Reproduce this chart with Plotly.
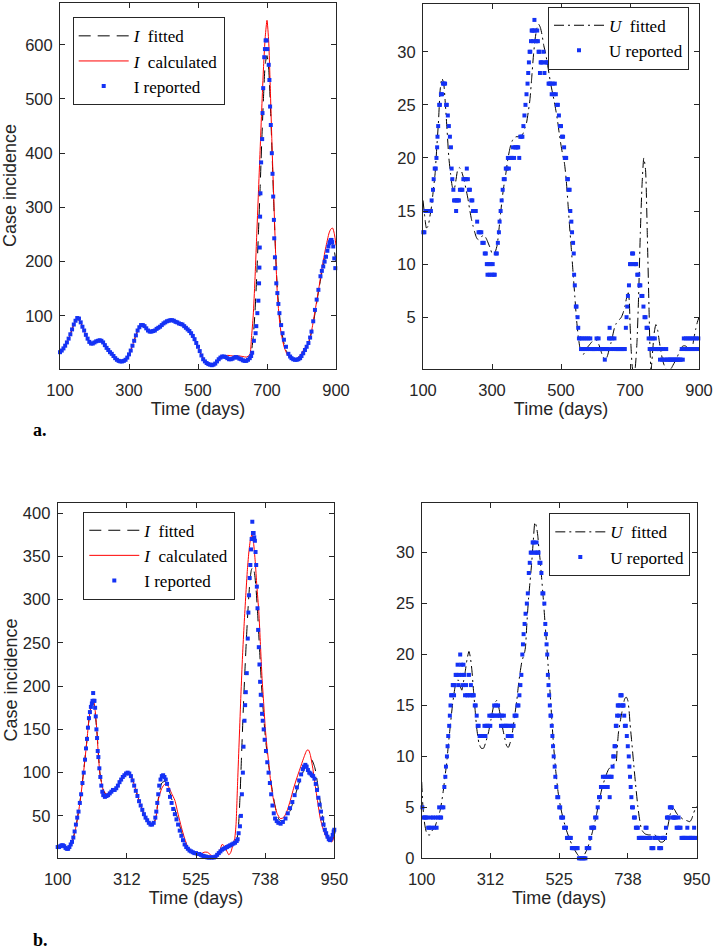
import plotly.graph_objects as go

W, H = 714, 951

# ---------------- Panel a, left: I (case incidence) ----------------
ia_rep_days = list(range(100, 651, 5)) + [
    654, 657, 662, 667, 669, 672, 675, 677, 678, 679,
    680, 681, 683, 686, 687, 689, 692, 694, 696, 699,
    701, 705, 707, 709, 711, 714, 716, 718, 720, 721,
    723, 724, 727, 730, 733, 736, 741, 745, 749, 755,
    762, 767, 771, 776, 781, 786, 791, 796, 800, 805,
    810, 815, 820, 825, 829, 834, 839, 844, 849, 855,
    859, 863, 867, 871, 875, 878, 881, 883, 885, 887,
    889, 892, 895, 898]
ia_rep_vals = [
    33, 36, 40, 45, 51, 58, 66, 75, 84, 91,
    96, 95, 88, 80, 73, 65, 58, 52, 49, 49,
    51, 53, 54, 55, 54, 51, 46, 41, 37, 33,
    30, 26, 22, 19, 17, 16, 16, 17, 19, 23,
    29, 36, 45, 54, 64, 73, 79, 83, 83, 81,
    77, 73, 71, 71, 72, 73, 76, 78, 80, 83,
    86, 88, 90, 91, 92, 92, 91, 89, 88, 86,
    85, 84, 81, 78, 75, 72, 68, 63, 57, 50,
    43, 35, 27, 20, 16, 13, 11, 10, 9, 10,
    12, 16, 20, 23, 25, 25, 24, 22, 20, 20,
    21, 23, 24, 23, 21, 20, 18, 17, 17, 19,
    22,
    26, 32, 54, 68, 81, 105, 128, 160, 189, 226,
    283, 326, 383, 426, 474, 520, 577, 592, 608, 608,
    592, 563, 535, 486, 452, 400, 362, 320, 277, 243,
    208, 188, 160, 142, 122, 105, 83, 68, 56, 43,
    30, 25, 22, 20, 19, 19, 20, 22, 26, 31,
    37, 43, 50, 60, 71, 90, 111, 130, 148, 173,
    183, 191, 200, 209, 220, 228, 234, 237, 240, 240,
    236, 228, 206, 188]

ia_line_days = (list(range(100, 641, 10)) + list(range(650, 741, 5))
                + list(range(750, 881, 10)) + [885, 890, 895, 900])
ia_fit_vals = [
    33, 40, 51, 66, 84, 95, 88, 73, 58, 49,
    51, 54, 54, 46, 37, 30, 22, 17, 16, 19,
    29, 45, 64, 79, 83, 77, 71, 72, 76, 80,
    86, 90, 92, 91, 88, 85, 81, 75, 68, 57,
    43, 27, 16, 11, 9, 12, 20, 25, 24, 20,
    21, 24, 21, 18, 17,
    22, 35, 60, 105, 170, 250, 335, 425, 505, 565,
    580, 555, 485, 395, 300, 215, 150, 110, 82,
    47, 30, 22, 20, 21, 26, 36, 49, 72, 108, 148, 183, 210, 232,
    237, 233, 220, 200]
ia_calc_vals = [
    33, 40, 51, 66, 84, 95, 87, 72, 58, 49,
    51, 53, 53, 45, 36, 29, 21, 15, 14, 18,
    28, 45, 64, 78, 82, 78, 72, 72, 75, 80,
    85, 89, 91, 90, 87, 84, 80, 74, 66, 56,
    43, 28, 17, 12, 10, 14, 22, 26, 27, 27,
    26, 26, 26, 25, 24,
    28, 60, 100, 165, 245, 325, 405, 485, 560, 615,
    645, 605, 510, 405, 310, 215, 140, 100, 72,
    42, 27, 21, 20, 23, 31, 41, 50, 75, 112, 150, 190, 225, 253,
    260, 262, 252, 230]

# ---------------- Panel a, right: U ----------------
ua_rep_days = [
    101, 104, 107, 111, 115, 119, 123, 125, 129, 131,
    134, 137, 139, 141, 142, 144, 147, 149, 152, 155,
    158, 161, 164, 167, 169, 172, 175, 178, 181, 183,
    185, 188, 190, 193, 196, 198, 201, 204, 207, 211,
    214, 217, 221, 224, 227, 230, 233, 236, 240, 243,
    245, 249, 253, 257, 261, 265, 269, 272, 276, 279,
    282, 285, 287, 290, 293, 296, 299, 302, 305, 308,
    311, 314, 317, 320, 322, 325, 328, 331, 334, 337,
    340, 343, 346, 349, 352, 355, 358, 361, 364, 367,
    370, 373, 376, 379, 382, 385, 388, 391, 394, 397,
    400, 403, 405, 407, 409, 411, 413, 415, 417, 419,
    421, 423, 425, 427, 429, 431, 433, 435, 437, 439,
    441, 443, 446, 449, 452, 455, 458, 461, 464, 467,
    470, 473, 476, 479, 482, 485, 488, 491, 494, 497,
    500, 503, 506, 509, 511, 513, 515, 518, 520, 522,
    525, 527, 530, 532, 535, 537, 538, 540, 543, 545,
    548, 550, 552, 555, 558, 561, 564, 567, 570, 573,
    576, 579, 582, 585, 588, 591, 594, 597, 600, 603,
    606, 609, 612, 615, 618, 621, 624, 627, 630, 633,
    636, 639, 641, 643, 646, 649, 652, 655, 658, 661,
    664, 667, 670, 673, 676, 679, 682, 685, 688, 690,
    692, 694, 697, 700, 703, 706, 709, 712, 715, 718,
    721, 724, 727, 730, 733, 736, 739, 742, 745, 748,
    751, 754, 757, 760, 763, 766, 769, 772, 775, 778,
    781, 784, 787, 790, 793, 796, 799, 802, 805, 808,
    811, 814, 817, 820, 823, 826, 829, 832, 835, 838,
    841, 844, 847, 850, 853, 856, 859, 862, 865, 868,
    871, 874, 877, 880, 883, 886, 889, 892, 895, 898]
ua_rep_vals = [
    13, 13, 15, 15, 15, 15, 15, 16, 17, 18,
    19, 19, 20, 21, 22, 23, 25, 25, 26, 26,
    27, 27, 27, 25, 25, 24, 23, 22, 21, 19,
    18, 17, 16, 16, 15, 16, 16, 16, 17, 17,
    17, 18, 18, 18, 19, 18, 17, 17, 16, 16,
    15, 15, 15, 14, 13, 13, 13, 12, 12, 11,
    11, 10, 9, 10, 9, 10, 9, 10, 9, 9,
    11, 11, 12, 13, 14, 15, 16, 17, 18, 18,
    19, 19, 20, 19, 20, 20, 20, 21, 20, 21,
    21, 21, 21, 20, 22, 22, 22, 23, 24, 25,
    26, 27, 28, 29, 30, 30, 31, 32, 32, 31,
    32, 33, 32, 31, 31, 32, 31, 30, 30, 28,
    29, 29, 29, 30, 28, 29, 29, 29, 27, 27,
    27, 26, 27, 26, 27, 26, 25, 25, 24, 23,
    23, 22, 22, 21, 20, 20, 20, 18, 18, 17,
    17, 15, 14, 13, 12, 11, 9, 8, 6, 6,
    5, 4, 3, 3, 2, 3, 2, 3, 2, 3,
    2, 3, 2, 3, 2, 2, 2, 2, 2, 3,
    2, 3, 2, 2, 2, 2, 2, 1, 2, 2,
    2, 3, 4, 3, 2, 3, 2, 3, 2, 2,
    2, 2, 2, 2, 2, 2, 2, 2, 4, 5,
    6, 7, 8, 10, 10, 11, 11, 10, 10, 10,
    9, 9, 8, 8, 7, 7, 6, 5, 5, 4,
    4, 3, 2, 3, 2, 3, 2, 3, 2, 2,
    2, 2, 1, 2, 1, 2, 1, 1, 2, 1,
    1, 1, 1, 1, 1, 1, 1, 1, 1, 1,
    1, 1, 1, 2, 1, 3, 2, 3, 2, 3,
    2, 3, 2, 3, 2, 3, 2, 3, 2, 3]

ua_fit_days = list(range(100, 696, 5)) + [
    698, 700, 703, 706, 710, 715, 720, 725, 730, 735,
    740, 745, 750, 755, 758, 761, 765, 770, 775, 780,
    785, 790, 795, 800, 805, 810, 815, 820, 825, 830,
    835, 840, 845, 850, 855, 860, 865, 870, 875, 880,
    885, 890, 895, 900]
ua_fit_vals = [
    16, 14.5, 13.4, 13.6, 14.5, 15.5, 17, 18.5, 21, 23.5,
    26.5, 27.5, 27, 25, 22.5, 20, 18.5, 17.3, 17, 17.8,
    18.8, 19.1, 18.9, 18.4, 17.8, 17, 16.2, 15.2, 14.3, 13.6,
    13, 12.5, 12.3, 12.4, 12.6, 12.7, 12.6, 12.3, 11.9, 11.5,
    11, 10.9, 11.2, 11.8, 13.2, 14.8, 16.3, 17.5, 18.5, 19.7,
    20.6, 21.3, 21.7, 21.9, 22, 22, 22.1, 22.1, 22.3, 22.8,
    23.3, 24.3, 25.5, 27.5, 29.6, 31.2, 32.2, 32.6, 32.3, 31.6,
    30.6, 29.9, 29, 28, 27, 26.2, 25.4, 24.5, 23.5, 22.3,
    21.2, 20.3, 19.5, 18, 15.8, 13.5, 11.4, 9.2, 7, 4.8,
    3.2, 2.1, 1.6, 1.5, 1.8, 2.1, 2.3, 2.5, 2.7, 2.9,
    2.9, 2.7, 2.4, 1.9, 1.4, 1.1, 1.0, 1.4, 2.0, 2.6,
    3.3, 4.0, 4.4, 4.6, 4.8, 5.0, 5.4, 6.0, 6.8, 7.3,
    6.5, 4.5, 2.2, 0.5, -0.5, 0.2, 2.5, 7, 13, 17.5,
    20, 18.9, 13, 6, 2, 0, 1.5, 3.5, 4.3, 3.8,
    2.7, 1.7, 0.9, 0.4, 0.1, 0, 0.05, 0.2, 0.5, 0.8,
    1.1, 1.5, 1.9, 2.2, 2.3, 2.3, 2.2, 2.2, 2.1, 2.1,
    3, 3.8, 4.5, 5]

# ---------------- Panel b, left: I ----------------
ib_rep_days = [
    100, 104, 108, 112, 116, 120, 124, 128, 132, 136,
    140, 144, 148, 152, 156, 160, 164, 168, 172, 176,
    180, 184, 187, 190, 193, 196, 199, 202, 205, 207,
    209, 211, 213, 215, 217, 219, 221, 223, 225, 228,
    231, 234, 237, 240, 245, 250, 255, 260, 265, 270,
    275, 280, 285, 290, 295, 300, 305, 310, 315, 320,
    325, 330, 335, 340, 345, 350, 355, 360, 365, 370,
    375, 380, 385, 390, 395, 400, 403, 406, 409, 412,
    416, 420, 424, 428, 432, 436, 440, 445, 450, 455,
    460, 465, 470, 475, 480, 485, 490, 495, 500, 505,
    510, 515, 520, 525, 530, 535, 540, 545, 550, 555,
    560, 565, 570, 575, 580, 585, 590, 595, 600, 605,
    610, 615, 620, 625, 630, 635, 640, 645, 650, 653,
    656, 660, 663, 666, 669, 671, 674, 676, 678, 681,
    684, 686, 688, 690, 692, 694, 696, 698, 700, 702,
    704, 706, 708, 710, 712, 714, 716, 718, 720, 722,
    724, 726, 728, 730, 733, 736, 740, 744, 748, 752,
    756, 760, 764, 768, 773, 778, 785, 792, 800, 807,
    814, 821, 828, 835, 842, 848, 853, 857, 861, 865,
    869, 873, 877, 881, 885, 889, 893, 897, 901, 905,
    909, 913, 917, 921, 925, 929, 933, 937, 941, 945,
    948, 950]
ib_rep_vals = [
    14, 14, 15, 16, 16, 15, 13, 12, 12, 14,
    17, 20, 25, 32, 40, 48, 55, 65, 75, 88,
    100, 115, 128, 139, 152, 163, 170, 176, 180, 183,
    192, 183, 183, 175, 165, 150, 140, 125, 118, 105,
    95, 85, 78, 74, 72, 73, 74, 76, 78, 80,
    80, 82, 85, 89, 92, 95, 97, 99, 100, 99,
    96, 91, 85, 79, 73, 67, 62, 57, 52, 48,
    45, 42, 40, 40, 42, 48, 55, 65, 75, 85,
    92, 96, 97, 95, 92, 87, 80, 72, 65, 58,
    52, 46, 40, 33, 27, 22, 17, 14, 12, 10,
    9, 8, 7, 7, 6, 6, 5, 4, 3, 3,
    2, 2, 2, 2, 2, 3, 5, 7, 9, 11,
    12, 13, 14, 15, 16, 17, 18, 19, 21, 23,
    30, 38, 50, 75, 100, 130, 160, 178, 193, 215,
    255, 285, 305, 325, 340, 358, 370, 390, 377, 377,
    372, 368, 355, 340, 315, 290, 265, 245, 225, 205,
    190, 178, 168, 160, 150, 138, 125, 112, 100, 88,
    75, 62, 53, 47, 44, 42, 41, 43, 47, 53,
    59, 66, 74, 83, 91, 98, 104, 107, 109, 107,
    103, 100, 99, 97, 96, 93, 87, 80, 71, 63,
    55, 47, 40, 34, 30, 26, 23, 22, 24, 28,
    32, 34]

ib_fit_days = (list(range(100, 641, 10)) + list(range(650, 751, 5))
               + list(range(760, 951, 10)))
ib_fit_vals = [
    14, 15, 14, 12, 16, 28, 46, 71, 103, 138,
    172, 181, 150, 99, 80, 74, 76, 80, 83, 88,
    94, 98, 99, 92, 80, 68, 57, 48, 42, 40,
    46, 72, 88, 90, 82, 70, 58, 45, 32, 20,
    13, 9, 7, 6, 5, 5, 4, 3, 3, 5,
    9, 12, 14, 15, 17,
    22, 35, 70, 120, 170, 215, 255, 290, 318, 334,
    338, 330, 310, 280, 245, 210, 180, 155, 134, 118, 104,
    78, 58, 46, 44, 46, 52, 62, 74, 86, 97,
    106, 112, 115, 106, 84, 58, 38, 26, 22, 26]

ib_calc_days = [
    100, 110, 120, 130, 140, 150, 160, 170, 180, 190,
    195, 200, 205, 210, 215, 220, 225, 230, 240, 250,
    260, 270, 280, 290, 300, 310, 320, 330, 340, 350,
    360, 370, 380, 390, 400, 410, 420, 430, 440, 450,
    460, 470, 480, 490, 500, 510, 520, 530, 540, 550,
    560, 570, 580, 590, 600, 605, 610, 620, 626, 632,
    638, 644, 648, 653, 658, 663, 668, 673, 678, 683,
    688, 693, 697, 702, 707, 712, 718, 723, 728, 733,
    738, 743, 748, 755, 764, 774, 784, 794, 804, 815,
    825, 835, 845, 855, 866, 871, 876, 884, 891, 899,
    907, 918, 928, 936, 943, 950]
ib_calc_vals = [
    14, 15, 14, 12, 16, 27, 45, 70, 102, 138,
    158, 172, 180, 182, 172, 150, 120, 98, 80, 75,
    77, 80, 83, 88, 94, 98, 99, 92, 80, 68,
    57, 48, 42, 40, 45, 70, 82, 87, 84, 76,
    68, 52, 37, 24, 14, 10, 8, 7, 6, 8,
    8, 5, 3, 5, 12, 17, 16, 9, 5, 8,
    16, 24, 40, 90, 140, 190, 235, 272, 305, 335,
    357, 371, 375, 365, 344, 316, 286, 248, 209, 180,
    151, 130, 113, 88, 67, 53, 47, 48, 55, 68,
    82, 94, 105, 116, 126, 126, 121, 105, 86, 66,
    47, 32, 24, 21, 20, 28]

# ---------------- Panel b, right: U ----------------
ub_rep_days = [
    102, 105, 109, 113, 117, 120, 124, 128, 131, 135,
    139, 143, 146, 150, 154, 157, 160, 163, 167, 170,
    173, 175, 178, 180, 182, 185, 187, 189, 191, 193,
    196, 198, 200, 202, 205, 208, 211, 214, 216, 219,
    222, 224, 227, 229, 232, 234, 237, 240, 243, 246,
    249, 252, 255, 258, 261, 264, 267, 270, 273, 276,
    279, 282, 285, 288, 291, 294, 297, 300, 303, 306,
    309, 312, 315, 318, 321, 324, 327, 330, 333, 336,
    339, 342, 345, 348, 351, 354, 357, 360, 363, 366,
    369, 372, 375, 378, 381, 384, 387, 390, 393, 396,
    399, 402, 405, 408, 411, 413, 415, 418, 421, 425,
    428, 431, 434, 437, 440, 443, 446, 449, 452, 455,
    458, 461, 464, 467, 470, 473, 476, 479, 482, 484,
    486, 488, 490, 492, 494, 496, 498, 500, 502, 504,
    506, 508, 511, 513, 516, 519, 522, 525, 528, 531,
    534, 537, 540, 543, 546, 549, 552, 555, 558, 561,
    564, 567, 570, 573, 576, 579, 582, 586, 590, 594,
    598, 602, 606, 610, 614, 618, 621, 624, 627, 630,
    633, 636, 640, 644, 648, 651, 654, 657, 660, 663,
    666, 669, 672, 675, 678, 681, 684, 687, 690, 692,
    694, 696, 698, 700, 702, 704, 706, 708, 710, 712,
    714, 716, 718, 720, 722, 724, 726, 728, 731, 734,
    737, 740, 742, 744, 746, 748, 750, 753, 756, 759,
    762, 765, 768, 771, 774, 777, 780, 783, 786, 789,
    792, 795, 798, 801, 804, 807, 810, 813, 816, 819,
    822, 825, 828, 831, 834, 837, 840, 843, 846, 849,
    852, 855, 858, 861, 864, 867, 870, 873, 876, 879,
    882, 885, 888, 891, 894, 897, 900, 903, 906, 909,
    912, 915, 918, 921, 924, 927, 930, 933, 936, 939,
    942, 945, 948]
ub_rep_vals = [
    5, 4, 4, 4, 4, 3, 3, 4, 3, 4,
    3, 4, 3, 4, 5, 4, 4, 5, 5, 7,
    8, 9, 10, 11, 12, 13, 14, 15, 16, 16,
    17, 17, 16, 17, 18, 18, 19, 17, 18, 20,
    19, 18, 17, 19, 18, 16, 17, 16, 16, 18,
    16, 17, 16, 16, 16, 15, 15, 14, 13, 13,
    12, 12, 12, 12, 12, 13, 12, 13, 13, 13,
    14, 13, 14, 14, 14, 15, 14, 15, 14, 15,
    14, 14, 13, 14, 13, 14, 13, 13, 13, 12,
    13, 12, 13, 12, 13, 13, 14, 14, 14, 15,
    15, 16, 17, 18, 20, 21, 22, 23, 24, 25,
    26, 28, 29, 30, 30, 31, 31, 30, 30, 31,
    30, 30, 29, 29, 28, 26, 26, 25, 23, 22,
    21, 20, 18, 17, 16, 15, 14, 14, 13, 12,
    11, 10, 9, 8, 7, 6, 6, 5, 5, 4,
    4, 4, 3, 3, 3, 2, 2, 2, 2, 2,
    1, 1, 1, 1, 1, 1, 1, 0, 0, 0,
    0, 0, 0, 1, 1, 1, 2, 3, 3, 3,
    3, 4, 4, 5, 6, 6, 7, 7, 8, 7,
    8, 7, 8, 7, 8, 6, 8, 8, 9, 10,
    10, 11, 11, 13, 13, 14, 15, 15, 14, 15,
    16, 16, 16, 15, 15, 15, 14, 13, 13, 12,
    11, 10, 9, 8, 7, 6, 5, 5, 4, 4,
    3, 3, 3, 2, 2, 2, 2, 2, 2, 2,
    3, 3, 2, 2, 2, 2, 1, 1, 1, 2,
    2, 2, 2, 2, 1, 1, 1, 2, 2, 2,
    2, 3, 4, 4, 4, 5, 5, 5, 4, 4,
    4, 4, 3, 3, 4, 3, 3, 2, 2, 2,
    2, 2, 2, 3, 2, 2, 2, 2, 2, 2,
    3, 2, 2]

ub_fit_days = [
    100, 103, 106, 110, 115, 120, 126, 132, 141, 150,
    157, 163, 167, 172, 177, 182, 188, 195, 203, 208,
    213, 218, 224, 229, 234, 240, 246, 250, 255, 260,
    265, 270, 277, 284, 291, 298, 306, 314, 322, 327,
    332, 337, 342, 350, 358, 363, 368, 374, 380, 387,
    394, 399, 404, 409, 414, 418, 421, 425, 430, 435,
    440, 445, 450, 455, 459, 462, 466, 471, 476, 481,
    486, 491, 497, 502, 507, 514, 522, 530, 538, 548,
    558, 568, 579, 587, 595, 602, 610, 618, 627, 634,
    641, 648, 656, 666, 677, 685, 692, 700, 704, 708,
    713, 718, 723, 728, 733, 737, 741, 744, 749, 754,
    761, 768, 774, 780, 790, 801, 811, 821, 829, 837,
    845, 852, 860, 868, 873, 878, 883, 888, 898, 909,
    919, 929, 935, 940, 945, 950]
ub_fit_vals = [
    7.5, 5.5, 4.2, 3.2, 2.5, 2.3, 2.3, 2.7, 3.1, 4,
    4.7, 5.8, 6.7, 8, 9.3, 11, 12.9, 15, 16.8, 17.4,
    17.5, 17, 16.5, 17.3, 18.2, 19.5, 20.3, 19.8, 18.5, 16.5,
    14.6, 12.8, 11.3, 10.8, 10.8, 11.4, 12.3, 13.6, 14.9, 15.3,
    15.5, 15, 14.2, 12.8, 11.6, 11, 10.9, 11.4, 12.3, 13.9,
    15.5, 17, 18.2, 19.2, 19.8, 20.2, 20.8, 23, 25.4, 27.2,
    29, 31.2, 33, 32.5, 31.6, 30.5, 29.3, 27.4, 25.4, 23.2,
    21.1, 18.8, 16.2, 13.7, 11.3, 8.7, 6.4, 4.9, 3.8, 2.7,
    1.8, 1.1, 0.5, 0.15, 0, 0.3, 0.8, 1.5, 2.5, 3.4,
    4.4, 5.5, 6.7, 7.8, 8.7, 9, 9.2, 9.3, 10.7, 12.3,
    13.3, 14.2, 15, 15.7, 15.8, 15.5, 14.5, 13.2, 11.5, 9.7,
    7.3, 5.1, 3.7, 2.8, 2.4, 2.3, 2.3, 2.3, 2, 1.6,
    1.6, 1.8, 3, 4.3, 4.7, 4.9, 4.7, 4.4, 4.1, 3.8,
    3.7, 3.6, 3.9, 4.4, 4.8, 5.1]

# ---------------- styling ----------------
AX_COL = "#262626"
BLUE = "rgb(20,50,245)"
TICK_FONT = dict(family="Liberation Sans", size=16.5, color=AX_COL)
TITLE_FONT = dict(family="Liberation Sans", size=18, color=AX_COL)
LEG_FONT = dict(family="Liberation Serif", size=17, color="black")

boxes = {  # pixel boxes of each axes: left, right, top, bottom
    1: (60, 336, 3, 369),
    2: (423, 699, 4, 369),
    3: (57.7, 334.3, 502.7, 858.3),
    4: (421.7, 696.7, 502.7, 858.3),
}

fig = go.Figure()


def add_I(n, legend, rep_d, rep_v, fit_d, fit_v, calc_d, calc_v):
    xa, ya = ("x", "y") if n == 1 else (f"x{n}", f"y{n}")
    fig.add_trace(go.Scatter(x=fit_d, y=fit_v, mode="lines", name="<i>I</i>\u2002fitted",
                             line=dict(color="black", width=1, dash="12px,7px", shape="spline", smoothing=0.6),
                             xaxis=xa, yaxis=ya, legend=legend))
    fig.add_trace(go.Scatter(x=calc_d, y=calc_v, mode="lines", name="<i>I</i>\u2002calculated",
                             line=dict(color="#ff0000", width=1, shape="spline", smoothing=0.6),
                             xaxis=xa, yaxis=ya, legend=legend))
    fig.add_trace(go.Scatter(x=rep_d, y=rep_v, mode="markers", name="I reported",
                             marker=dict(symbol="square", size=4, color=BLUE, line=dict(width=0)),
                             cliponaxis=False, xaxis=xa, yaxis=ya, legend=legend))


def add_U(n, legend, rep_d, rep_v, fit_d, fit_v):
    xa, ya = f"x{n}", f"y{n}"
    fig.add_trace(go.Scatter(x=fit_d, y=fit_v, mode="lines", name="<i>U</i>\u2002fitted",
                             line=dict(color="black", width=1, dash="10px,4px,2px,4px", shape="spline", smoothing=0.6),
                             xaxis=xa, yaxis=ya, legend=legend))
    fig.add_trace(go.Scatter(x=rep_d, y=rep_v, mode="markers", name="U reported",
                             marker=dict(symbol="square", size=4, color=BLUE, line=dict(width=0)),
                             cliponaxis=False, xaxis=xa, yaxis=ya, legend=legend))


add_I(1, "legend", ia_rep_days, ia_rep_vals, ia_line_days, ia_fit_vals, ia_line_days, ia_calc_vals)
add_U(2, "legend2", ua_rep_days, ua_rep_vals, ua_fit_days, ua_fit_vals)
add_I(3, "legend3", ib_rep_days, ib_rep_vals, ib_fit_days, ib_fit_vals, ib_calc_days, ib_calc_vals)
add_U(4, "legend4", ub_rep_days, ub_rep_vals, ub_fit_days, ub_fit_vals)

common = dict(showline=True, linecolor=AX_COL, linewidth=1, mirror="ticks", ticks="inside",
              ticklen=5, tickwidth=1, tickcolor=AX_COL, showgrid=False, zeroline=False,
              tickfont=TICK_FONT, automargin=False, ticklabeloverflow="allow")

xr = {1: [100, 900], 2: [100, 900], 3: [100, 950], 4: [100, 950]}
yr = {1: [2, 677], 2: [0.12, 34.5], 3: [1, 412], 4: [0, 34.9]}
ytv = {1: [100, 200, 300, 400, 500, 600], 2: [5, 10, 15, 20, 25, 30],
       3: [50, 100, 150, 200, 250, 300, 350, 400], 4: [0, 5, 10, 15, 20, 25, 30]}
xtv_a = [100, 300, 500, 700, 900]
xtv_b = [100, 312.5, 525, 737.5, 950]
xtt_b = ["100", "312", "525", "738", "950"]

layout = dict(width=W, height=H, margin=dict(l=0, r=0, t=0, b=0, autoexpand=False),
              paper_bgcolor="white", plot_bgcolor="white", template="none")
for n, (l, r, t, b) in boxes.items():
    xk = "xaxis" if n == 1 else f"xaxis{n}"
    yk = "yaxis" if n == 1 else f"yaxis{n}"
    xa = dict(common, domain=[l / W, r / W], range=xr[n],
              anchor="y" if n == 1 else f"y{n}",
              title=dict(text="Time (days)", font=TITLE_FONT, standoff=3),
              ticklabelstandoff=6)
    if n in (1, 2):
        xa["tickvals"] = xtv_a
    else:
        xa["tickvals"] = xtv_b
        xa["ticktext"] = xtt_b
    ya = dict(common, domain=[1 - b / H, 1 - t / H], range=yr[n],
              anchor="x" if n == 1 else f"x{n}", tickvals=ytv[n], ticklabelstandoff=3)
    layout[xk] = xa
    layout[yk] = ya

leg_common = dict(bgcolor="white", bordercolor=AX_COL, borderwidth=1, font=LEG_FONT,
                  xanchor="left", yanchor="top", itemwidth=50, tracegroupgap=0)
layout["legend"] = dict(leg_common, x=72.7 / W, y=1 - 17.3 / H)
layout["legend2"] = dict(leg_common, x=548 / W, y=1 - 6.7 / H)
layout["legend3"] = dict(leg_common, x=83.3 / W, y=1 - 511.7 / H)
layout["legend4"] = dict(leg_common, x=549.3 / W, y=1 - 513.3 / H)

panel_font = dict(family="Liberation Serif", size=18, color="black")
layout["annotations"] = [
    dict(text="<b>a.</b>", x=31 / W, y=1 - 430 / H, xref="paper", yref="paper",
         xanchor="left", yanchor="middle", showarrow=False, font=panel_font),
    dict(text="<b>b.</b>", x=31 / W, y=1 - 940 / H, xref="paper", yref="paper",
         xanchor="left", yanchor="middle", showarrow=False, font=panel_font),
    # y-axis titles of the two left panels
    dict(text="Case incidence", x=10 / W, y=1 - 186 / H, xref="paper", yref="paper",
         xanchor="center", yanchor="middle", textangle=-90, showarrow=False, font=TITLE_FONT),
    dict(text="Case incidence", x=10 / W, y=1 - 680.5 / H, xref="paper", yref="paper",
         xanchor="center", yanchor="middle", textangle=-90, showarrow=False, font=TITLE_FONT),
]

fig.update_layout(**layout)
fig.write_html("out.html")
